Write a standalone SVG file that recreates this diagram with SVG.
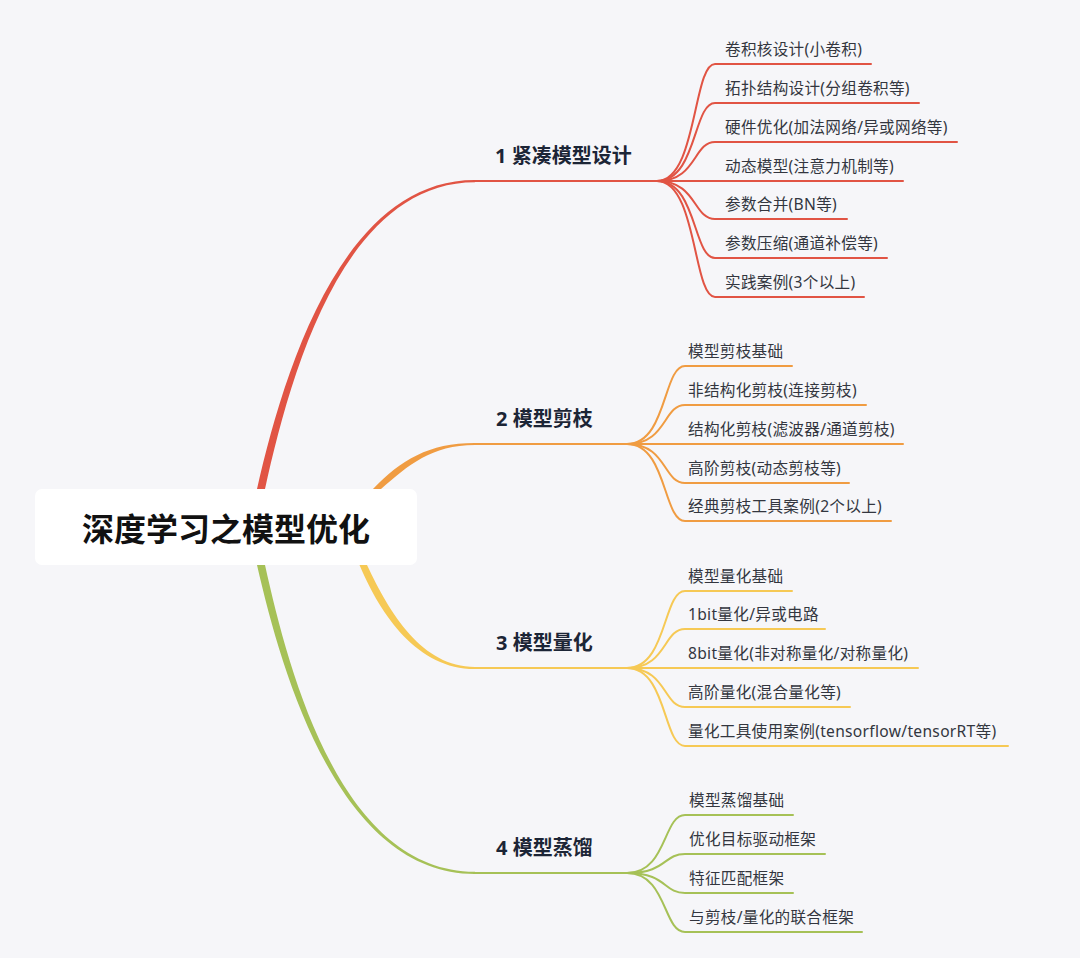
<svg xmlns="http://www.w3.org/2000/svg" width="1080" height="958" viewBox="0 0 1080 958">
<style>
.bg{fill:#f6f6f9}
.leaf{font-family:"Noto Sans","Noto Sans CJK SC",sans-serif;font-size:15.6px;letter-spacing:0.3px;fill:#33363f;dominant-baseline:central}
.branch{font-family:"Noto Sans","Noto Sans CJK SC",sans-serif;font-size:20px;font-weight:bold;fill:#1c2536;dominant-baseline:central}
.root{font-family:"Noto Sans CJK SC",sans-serif;font-size:32px;font-weight:bold;fill:#111111;dominant-baseline:central;text-anchor:middle}
.ln{fill:none;stroke-width:2;stroke-linecap:round}
.red{stroke:#e15444}.redf{fill:#e15444}
.org{stroke:#f09c42}.orgf{fill:#f09c42}
.yel{stroke:#f6c955}.yelf{fill:#f6c955}
.grn{stroke:#a6c157}.grnf{fill:#a6c157}
</style>
<rect class="bg" x="0" y="0" width="1080" height="958"/>
<g id="connectors">
  <path class="redf" d="M257,500 L257,489 C282,380 339,179.8 475,180 L475,182.2 C341,182.4 289,381 265,489 L265,500 Z"/>
  <path class="orgf" d="M372,500 L373,489 C401,460 429,442.9 475,443 L475,445.1 C431,445.3 409,465 381,489 L381,500 Z"/>
  <path class="yelf" d="M359,555 L359.5,565 C381,616 418,669.2 475,669.1 L475,667 C422,666.8 390,614 367,565 L366.5,555 Z"/>
  <path class="grnf" d="M257,555 L257,565 C282,674 339,874.2 475,874 L475,871.8 C341,871.6 289,673 265,565 L265,555 Z"/>
  <path class="ln red" d="M474,181 H657"/>
  <path class="ln org" d="M474,444 H627"/>
  <path class="ln yel" d="M474,668 H627"/>
  <path class="ln grn" d="M474,873 H627"/>
  <path class="ln red" d="M657,181 C697,181 693,64 715,64 H871"/>
  <path class="ln red" d="M657,181 C697,181 693,103 715,103 H919"/>
  <path class="ln red" d="M657,181 C697,181 693,142 715,142 H957"/>
  <path class="ln red" d="M657,181 H903"/>
  <path class="ln red" d="M657,181 C697,181 693,219 715,219 H847"/>
  <path class="ln red" d="M657,181 C697,181 693,258 715,258 H887"/>
  <path class="ln red" d="M657,181 C697,181 693,297 715,297 H864"/>
  <path class="ln org" d="M627,444 C667,444 663,366 685,366 H792"/>
  <path class="ln org" d="M627,444 C667,444 663,405 685,405 H866"/>
  <path class="ln org" d="M627,444 H903"/>
  <path class="ln org" d="M627,444 C667,444 663,483 685,483 H849"/>
  <path class="ln org" d="M627,444 C667,444 663,521 685,521 H891"/>
  <path class="ln yel" d="M627,668 C667,668 663,591 685,591 H792"/>
  <path class="ln yel" d="M627,668 C667,668 663,629 685,629 H825"/>
  <path class="ln yel" d="M627,668 H918"/>
  <path class="ln yel" d="M627,668 C667,668 663,707 685,707 H850"/>
  <path class="ln yel" d="M627,668 C667,668 663,746 685,746 H1008"/>
  <path class="ln grn" d="M627,873 C667,873 663,815 685,815 H793"/>
  <path class="ln grn" d="M627,873 C667,873 663,854 685,854 H825"/>
  <path class="ln grn" d="M627,873 C667,873 663,893 685,893 H793"/>
  <path class="ln grn" d="M627,873 C667,873 663,932 685,932 H862"/>
</g>
<g id="root">
  <rect x="35" y="489" width="382" height="76" rx="7" fill="#ffffff"/>
  <text class="root" x="226" y="527">深度学习之模型优化</text>
</g>
<g id="b1"><text class="branch" x="495" y="155">1 紧凑模型设计</text></g>
<g id="b2"><text class="branch" x="496" y="418">2 模型剪枝</text></g>
<g id="b3"><text class="branch" x="496" y="642">3 模型量化</text></g>
<g id="b4"><text class="branch" x="496" y="847">4 模型蒸馏</text></g>
<g id="b1-leaves">
  <g id="l1-1"><text class="leaf" x="725" y="49">卷积核设计(小卷积)</text></g>
  <g id="l1-2"><text class="leaf" x="725" y="88">拓扑结构设计(分组卷积等)</text></g>
  <g id="l1-3"><text class="leaf" x="725" y="127">硬件优化(加法网络/异或网络等)</text></g>
  <g id="l1-4"><text class="leaf" x="725" y="166">动态模型(注意力机制等)</text></g>
  <g id="l1-5"><text class="leaf" x="725" y="204">参数合并(BN等)</text></g>
  <g id="l1-6"><text class="leaf" x="725" y="243">参数压缩(通道补偿等)</text></g>
  <g id="l1-7"><text class="leaf" x="725" y="282">实践案例(3个以上)</text></g>
</g>
<g id="b2-leaves">
  <g id="l2-1"><text class="leaf" x="688" y="351">模型剪枝基础</text></g>
  <g id="l2-2"><text class="leaf" x="688" y="390">非结构化剪枝(连接剪枝)</text></g>
  <g id="l2-3"><text class="leaf" x="688" y="429">结构化剪枝(滤波器/通道剪枝)</text></g>
  <g id="l2-4"><text class="leaf" x="688" y="468">高阶剪枝(动态剪枝等)</text></g>
  <g id="l2-5"><text class="leaf" x="688" y="506">经典剪枝工具案例(2个以上)</text></g>
</g>
<g id="b3-leaves">
  <g id="l3-1"><text class="leaf" x="688" y="576">模型量化基础</text></g>
  <g id="l3-2"><text class="leaf" x="688" y="614">1bit量化/异或电路</text></g>
  <g id="l3-3"><text class="leaf" x="688" y="653">8bit量化(非对称量化/对称量化)</text></g>
  <g id="l3-4"><text class="leaf" x="688" y="692">高阶量化(混合量化等)</text></g>
  <g id="l3-5"><text class="leaf" x="688" y="731">量化工具使用案例(tensorflow/tensorRT等)</text></g>
</g>
<g id="b4-leaves">
  <g id="l4-1"><text class="leaf" x="689" y="800">模型蒸馏基础</text></g>
  <g id="l4-2"><text class="leaf" x="689" y="839">优化目标驱动框架</text></g>
  <g id="l4-3"><text class="leaf" x="689" y="878">特征匹配框架</text></g>
  <g id="l4-4"><text class="leaf" x="689" y="917">与剪枝/量化的联合框架</text></g>
</g>
</svg>
